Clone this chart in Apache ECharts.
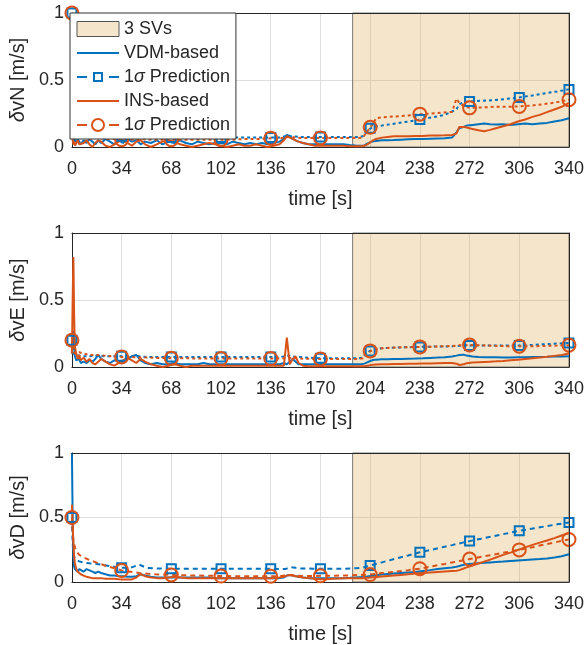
<!DOCTYPE html>
<html>
<head>
<meta charset="utf-8">
<script src="https://cdn.jsdelivr.net/npm/echarts@6/dist/echarts.min.js"></script>
<style>
  html, body { margin: 0; padding: 0; background: #fff; }
  #chart { width: 587px; height: 645px; }
</style>
</head>
<body>
<div id="chart"></div>
<script>
// Sample times (s) of the velocity-error traces
const timeErr = [
  0, 0.5, 1, 1.5, 2, 3, 4, 5, 6,
  8, 10, 12, 14, 16, 18, 20,
  23, 26, 29, 32, 35, 38, 41, 44, 47, 50,
  54, 58, 62, 66, 70, 74, 78, 82, 86, 90, 94, 98,
  102, 106, 110, 114, 118, 122, 126, 130, 134, 138, 142,
  145, 147, 149, 151, 153, 155,
  158, 162, 166, 170, 174, 178, 182, 186, 190, 194, 198,
  200, 202, 204, 206, 208, 212, 216, 220,
  225, 230, 235, 240, 245, 250, 255, 260,
  263, 265, 266, 268, 270, 274, 278, 282, 286, 290,
  295, 300, 305, 310, 315, 320, 325, 330, 335, 340
];

// Sample times (s) of the 1-sigma predictions
const timePred = [
  0, 0.5, 1, 2, 3, 5, 8, 12, 17, 22, 28, 34,
  40, 46, 51, 57, 63, 68, 75, 85, 95, 102,
  110, 119, 128, 136, 142, 146, 148, 150, 153, 156, 160, 165, 170,
  175, 180, 186, 192, 196, 199, 201, 203, 204, 206, 208, 212,
  221, 230, 238, 246, 255, 260, 263, 265, 266, 268, 272,
  280, 289, 298, 306, 315, 323, 332, 340
];

// Times at which prediction markers are drawn
const markerTimes = [0, 34, 68, 102, 136, 170, 204, 238, 272, 306, 340];

// Period with only 3 satellites visible (s)
const outage = [192, 340];

// North velocity error (m/s)
const vdmN = [
  0.10, 0.06, 0.04, 0.07, 0.05, 0.03, 0.06, 0.04, 0.02,
  0.05, 0.03, 0.06, 0.04, 0.02, 0.05, 0.03,
  0.06, 0.04, 0.02, 0.05, 0.03, 0.06, 0.04, 0.05, 0.02, 0.04,
  0.03, 0.05, 0.02, 0.04, 0.03, 0.05, 0.03, 0.02, 0.04, 0.03, 0.02, 0.03,
  0.03, 0.02, 0.04, 0.03, 0.02, 0.03, 0.02, 0.03, 0.02, 0.03, 0.04,
  0.06, 0.09, 0.08, 0.06, 0.05, 0.04,
  0.03, 0.02, 0.02, 0.02, 0.02, 0.02, 0.02, 0.02, 0.015, 0.012, 0.01,
  0.012, 0.025, 0.035, 0.042, 0.045, 0.05, 0.05, 0.052,
  0.055, 0.058, 0.06, 0.06, 0.062, 0.064, 0.066, 0.07,
  0.11, 0.14, 0.145, 0.15, 0.16, 0.165, 0.17, 0.175, 0.17, 0.168,
  0.17, 0.165, 0.17, 0.175, 0.17, 0.175, 0.18, 0.19, 0.2, 0.215
];
const insN = [
  0.12, 0.05, 0.02, 0.04, 0.01, 0.03, 0.05, 0.02, 0.01,
  0.03, 0.05, 0.02, 0.00, 0.03, 0.05, 0.04,
  0.01, 0.00, 0.02, 0.04, 0.05, 0.03, 0.01, 0.04, 0.05, 0.02,
  0.00, 0.02, 0.04, 0.05, 0.04, 0.02, 0.01, 0.00, 0.01, 0.02, 0.03, 0.02,
  0.01, 0.00, 0.01, 0.02, 0.01, 0.01, 0.02, 0.01, 0.00, 0.01, 0.02,
  0.05, 0.08, 0.07, 0.06, 0.05, 0.04,
  0.03, 0.02, 0.01, 0.01, 0.01, 0.01, 0.01, 0.01, 0.005, 0.005, 0.005,
  0.01, 0.02, 0.035, 0.05, 0.06, 0.07, 0.075, 0.08,
  0.08, 0.08, 0.082, 0.083, 0.085, 0.085, 0.087, 0.09,
  0.10, 0.15, 0.155, 0.15, 0.145, 0.135, 0.125, 0.117, 0.128, 0.14,
  0.155, 0.17, 0.19, 0.205, 0.225, 0.24, 0.26, 0.28, 0.30, 0.33
];
const vdmSigN = [
  1.0, 0.3, 0.12, 0.1, 0.09, 0.1, 0.09, 0.1, 0.09, 0.08, 0.085, 0.08,
  0.075, 0.08, 0.075, 0.07, 0.07, 0.07, 0.07, 0.07, 0.07, 0.07,
  0.07, 0.07, 0.07, 0.07, 0.07, 0.08, 0.085, 0.08, 0.078, 0.075, 0.075, 0.075, 0.075,
  0.075, 0.075, 0.075, 0.075, 0.075, 0.08, 0.11, 0.13, 0.14, 0.15, 0.155, 0.16,
  0.175, 0.19, 0.205, 0.22, 0.24, 0.265, 0.28, 0.32, 0.33, 0.335, 0.34,
  0.345, 0.35, 0.36, 0.37, 0.385, 0.40, 0.415, 0.43
];
const insSigN = [
  1.0, 0.3, 0.1, 0.08, 0.07, 0.08, 0.07, 0.06, 0.07, 0.06, 0.06, 0.055,
  0.055, 0.06, 0.055, 0.055, 0.055, 0.055, 0.055, 0.055, 0.055, 0.055,
  0.055, 0.06, 0.06, 0.065, 0.065, 0.07, 0.075, 0.075, 0.07, 0.068, 0.068, 0.068, 0.068,
  0.068, 0.068, 0.068, 0.068, 0.068, 0.07, 0.10, 0.13, 0.147, 0.17, 0.215, 0.222,
  0.228, 0.235, 0.245, 0.25, 0.258, 0.262, 0.36, 0.33, 0.32, 0.305, 0.292,
  0.295, 0.30, 0.30, 0.303, 0.31, 0.32, 0.335, 0.353
];

// East velocity error (m/s)
const vdmE = [
  0.10, 0.2, 0.27, 0.15, 0.08, 0.05, 0.04, 0.06, 0.03,
  0.04, 0.03, 0.05, 0.04, 0.06, 0.09, 0.06,
  0.04, 0.03, 0.05, 0.04, 0.03, 0.06, 0.08, 0.09, 0.05, 0.03,
  0.02, 0.03, 0.02, 0.02, 0.03, 0.02, 0.02, 0.02, 0.02, 0.03, 0.02, 0.02,
  0.02, 0.02, 0.02, 0.02, 0.02, 0.02, 0.02, 0.02, 0.02, 0.02, 0.02,
  0.03, 0.02, 0.04, 0.06, 0.04, 0.02,
  0.02, 0.02, 0.02, 0.02, 0.02, 0.02, 0.02, 0.02, 0.02, 0.02, 0.02,
  0.025, 0.035, 0.045, 0.052, 0.055, 0.057, 0.058, 0.06,
  0.06, 0.062, 0.063, 0.065, 0.068, 0.07, 0.073, 0.078,
  0.085, 0.09, 0.095, 0.092, 0.085, 0.078, 0.075, 0.073, 0.072, 0.072,
  0.07, 0.07, 0.072, 0.072, 0.074, 0.075, 0.076, 0.078, 0.079, 0.08
];
const insE = [
  0.1, 0.5, 0.82, 0.4, 0.15, 0.1, 0.06, 0.09, 0.05,
  0.07, 0.04, 0.06, 0.03, 0.02, 0.04, 0.06,
  0.04, 0.02, 0.01, 0.03, 0.05, 0.07, 0.05, 0.03, 0.06, 0.04,
  0.02, 0.01, 0.00, 0.01, 0.02, 0.01, 0.00, 0.01, 0.01, 0.01, 0.01, 0.01,
  0.01, 0.01, 0.01, 0.01, 0.01, 0.01, 0.01, 0.01, 0.01, 0.01, 0.01,
  0.01, 0.22, 0.02, 0.06, 0.08, 0.03,
  0.01, 0.005, 0.005, 0.005, 0.005, 0.005, 0.005, 0.005, 0.005, 0.005, 0.005,
  0.006, 0.01, 0.014, 0.017, 0.019, 0.02, 0.021, 0.022,
  0.023, 0.024, 0.025, 0.026, 0.027, 0.028, 0.029, 0.03,
  0.025, 0.015, 0.012, 0.02, 0.028, 0.033, 0.036, 0.038, 0.04, 0.042,
  0.045, 0.05, 0.055, 0.06, 0.065, 0.07, 0.076, 0.083, 0.09, 0.1
];
const vdmSigE = [
  0.2, 0.12, 0.1, 0.09, 0.09, 0.085, 0.08, 0.08, 0.085, 0.08, 0.08, 0.08,
  0.08, 0.08, 0.075, 0.075, 0.075, 0.075, 0.075, 0.075, 0.075, 0.075,
  0.075, 0.075, 0.075, 0.075, 0.075, 0.08, 0.085, 0.08, 0.075, 0.075, 0.07, 0.068, 0.065,
  0.065, 0.065, 0.065, 0.065, 0.065, 0.07, 0.1, 0.115, 0.12, 0.13, 0.135, 0.14,
  0.145, 0.148, 0.15, 0.152, 0.153, 0.155, 0.157, 0.158, 0.158, 0.16, 0.16,
  0.16, 0.16, 0.16, 0.16, 0.165, 0.17, 0.175, 0.18
];
const insSigE = [
  0.2, 0.15, 0.12, 0.1, 0.1, 0.11, 0.1, 0.09, 0.09, 0.085, 0.08, 0.075,
  0.075, 0.07, 0.07, 0.068, 0.066, 0.065, 0.065, 0.064, 0.063, 0.063,
  0.063, 0.063, 0.063, 0.063, 0.063, 0.065, 0.07, 0.068, 0.065, 0.063, 0.062, 0.06, 0.06,
  0.06, 0.06, 0.06, 0.06, 0.06, 0.065, 0.095, 0.11, 0.12, 0.13, 0.135, 0.14,
  0.145, 0.148, 0.15, 0.152, 0.155, 0.157, 0.16, 0.162, 0.163, 0.164, 0.165,
  0.162, 0.158, 0.155, 0.155, 0.155, 0.157, 0.16, 0.163
];

// Down velocity error (m/s)
const vdmD = [
  1.0, 0.5, 0.2, 0.12, 0.1, 0.09, 0.08, 0.1, 0.09,
  0.08, 0.1, 0.09, 0.08, 0.07, 0.08, 0.07,
  0.06, 0.05, 0.05, 0.045, 0.045, 0.04, 0.04, 0.045, 0.06, 0.05,
  0.04, 0.035, 0.035, 0.035, 0.035, 0.035, 0.035, 0.035, 0.035, 0.035, 0.035, 0.03,
  0.03, 0.03, 0.03, 0.03, 0.03, 0.03, 0.03, 0.03, 0.03, 0.03, 0.03,
  0.035, 0.05, 0.055, 0.05, 0.045, 0.04,
  0.035, 0.03, 0.03, 0.03, 0.03, 0.03, 0.03, 0.03, 0.032, 0.035, 0.038,
  0.04, 0.042, 0.046, 0.05, 0.053, 0.058, 0.062, 0.066,
  0.07, 0.074, 0.078, 0.085, 0.092, 0.1, 0.107, 0.113,
  0.118, 0.124, 0.128, 0.134, 0.138, 0.142, 0.146, 0.149, 0.152, 0.155,
  0.158, 0.162, 0.166, 0.17, 0.174, 0.178, 0.183, 0.19, 0.2, 0.215
];
const insD = [
  0.6, 0.45, 0.3, 0.2, 0.15, 0.1, 0.08, 0.07, 0.06,
  0.05, 0.04, 0.035, 0.03, 0.03, 0.03, 0.03,
  0.025, 0.025, 0.025, 0.022, 0.02, 0.02, 0.02, 0.035, 0.06, 0.045,
  0.035, 0.03, 0.03, 0.035, 0.04, 0.035, 0.03, 0.03, 0.03, 0.03, 0.03, 0.03,
  0.03, 0.03, 0.03, 0.03, 0.03, 0.03, 0.03, 0.03, 0.03, 0.03, 0.035,
  0.04, 0.05, 0.055, 0.05, 0.045, 0.04,
  0.035, 0.03, 0.025, 0.022, 0.022, 0.025, 0.028, 0.03, 0.03, 0.03, 0.03,
  0.031, 0.032, 0.034, 0.036, 0.038, 0.042, 0.046, 0.05,
  0.055, 0.06, 0.065, 0.07, 0.074, 0.078, 0.082, 0.086,
  0.088, 0.092, 0.095, 0.105, 0.113, 0.128, 0.143, 0.158, 0.173, 0.19,
  0.21, 0.228, 0.248, 0.268, 0.288, 0.305, 0.322, 0.34, 0.36, 0.38
];
const vdmSigD = [
  0.5, 0.3, 0.22, 0.18, 0.17, 0.16, 0.15, 0.145, 0.14, 0.13, 0.12, 0.11,
  0.11, 0.135, 0.11, 0.105, 0.105, 0.103, 0.103, 0.103, 0.103, 0.103,
  0.103, 0.103, 0.103, 0.103, 0.1, 0.1, 0.11, 0.115, 0.11, 0.105, 0.105, 0.103, 0.103,
  0.103, 0.103, 0.103, 0.105, 0.108, 0.112, 0.118, 0.124, 0.128, 0.134, 0.14, 0.152,
  0.18, 0.206, 0.23, 0.25, 0.274, 0.286, 0.294, 0.299, 0.302, 0.307, 0.317,
  0.336, 0.357, 0.378, 0.397, 0.414, 0.43, 0.447, 0.462
];
const insSigD = [
  0.5, 0.4, 0.32, 0.27, 0.24, 0.21, 0.19, 0.17, 0.15, 0.13, 0.11, 0.09,
  0.08, 0.07, 0.065, 0.06, 0.057, 0.055, 0.052, 0.05, 0.048, 0.046,
  0.045, 0.045, 0.045, 0.045, 0.045, 0.05, 0.055, 0.055, 0.05, 0.048, 0.047, 0.047, 0.048,
  0.048, 0.049, 0.05, 0.052, 0.054, 0.055, 0.056, 0.057, 0.058, 0.061, 0.063, 0.069,
  0.08, 0.092, 0.103, 0.121, 0.14, 0.152, 0.158, 0.163, 0.165, 0.169, 0.178,
  0.195, 0.214, 0.232, 0.249, 0.27, 0.29, 0.311, 0.33
];

// ---- styling ----
const FONT = "'Liberation Sans', Arial, Helvetica, sans-serif";
const TEXT = '#262626';
const BLUE = '#0072BD';
const ORANGE = '#D95319';
const SHADE = 'rgba(222,170,80,0.30)';

const panels = [
  { comp: 'N', top: 13,  height: 134, vdm: vdmN, ins: insN, vdmSig: vdmSigN, insSig: insSigN, dash: [3, 3] },
  { comp: 'E', top: 233, height: 134, vdm: vdmE, ins: insE, vdmSig: vdmSigE, insSig: insSigE, dash: [3, 3] },
  { comp: 'D', top: 453, height: 132, vdm: vdmD, ins: insD, vdmSig: vdmSigD, insSig: insSigD, dash: [5, 4] }
];

const pairs = (t, v) => t.map((x, i) => [x, v[i]]);
const withMarkers = (t, v) => t.map((x, i) =>
  markerTimes.includes(x) ? { value: [x, v[i]] } : { value: [x, v[i]], symbol: 'none' });

const grid = [], xAxis = [], yAxis = [], series = [];

panels.forEach((p, i) => {
  grid.push({ left: 70, right: 18, top: p.top, height: p.height, containLabel: false });

  // main x axis (bottom) with labels and grid lines
  xAxis.push({
    type: 'value', gridIndex: i, min: 0, max: 340, interval: 34,
    name: 'time [s]', nameLocation: 'middle', nameGap: 42,
    nameTextStyle: { fontFamily: FONT, fontSize: 20, color: TEXT },
    axisLine: { show: true, onZero: false, lineStyle: { color: TEXT, width: 1 } },
    axisTick: { show: false },
    axisLabel: { fontFamily: FONT, fontSize: 18, color: TEXT, margin: 13 },
    splitLine: { show: true, lineStyle: { color: '#dedede', width: 1 } }
  });
  // frame line on top
  xAxis.push({
    type: 'value', gridIndex: i, min: 0, max: 340, position: 'top', z: 10,
    axisLine: { show: true, onZero: false, lineStyle: { color: TEXT, width: 1 } },
    axisTick: { show: false }, axisLabel: { show: false }, splitLine: { show: false }
  });

  yAxis.push({
    type: 'value', gridIndex: i, min: 0, max: 1, interval: 0.5,
    name: '{d|\u03b4}v' + p.comp + ' [m/s]', nameLocation: 'middle', nameGap: 33,
    nameTextStyle: {
      fontFamily: FONT, fontSize: 20, color: TEXT,
      rich: { d: { fontFamily: FONT, fontSize: 20, color: TEXT, fontStyle: 'italic' } }
    },
    axisLine: { show: true, onZero: false, lineStyle: { color: TEXT, width: 1 } },
    axisTick: { show: false },
    axisLabel: { fontFamily: FONT, fontSize: 18, color: TEXT, margin: 8 },
    splitLine: { show: true, lineStyle: { color: '#dedede', width: 1 } }
  });
  // frame line on the right
  yAxis.push({
    type: 'value', gridIndex: i, min: 0, max: 1, position: 'right', z: 10,
    axisLine: { show: true, onZero: false, lineStyle: { color: TEXT, width: 1 } },
    axisTick: { show: false }, axisLabel: { show: false }, splitLine: { show: false }
  });

  const xi = 2 * i, yi = 2 * i;

  // shaded period with 3 satellites
  series.push({
    name: '3 SVs', type: 'line', xAxisIndex: xi, yAxisIndex: yi, data: [],
    itemStyle: { color: '#f5e5ca' },
    markArea: {
      silent: true,
      itemStyle: { color: SHADE, borderColor: 'rgba(80,80,80,0.75)', borderWidth: 1 },
      data: [[{ xAxis: outage[0] }, { xAxis: outage[1] }]]
    }
  });

  series.push({
    name: 'VDM-based', type: 'line', xAxisIndex: xi, yAxisIndex: yi,
    data: pairs(timeErr, p.vdm), symbol: 'none',
    itemStyle: { color: BLUE },
    lineStyle: { color: BLUE, width: 2 }
  });
  series.push({
    name: 'predV', type: 'line', xAxisIndex: xi, yAxisIndex: yi,
    data: withMarkers(timePred, p.vdmSig),
    symbol: 'rect', symbolSize: 9, showSymbol: true, showAllSymbol: true,
    itemStyle: { color: 'rgba(0,0,0,0)', borderColor: BLUE, borderWidth: 2 },
    lineStyle: { color: BLUE, width: 2, type: p.dash }
  });
  series.push({
    name: 'INS-based', type: 'line', xAxisIndex: xi, yAxisIndex: yi,
    data: pairs(timeErr, p.ins), symbol: 'none',
    itemStyle: { color: ORANGE },
    lineStyle: { color: ORANGE, width: 2 }
  });
  series.push({
    name: 'predI', type: 'line', xAxisIndex: xi, yAxisIndex: yi,
    data: withMarkers(timePred, p.insSig),
    symbol: 'circle', symbolSize: 13, showSymbol: true, showAllSymbol: true,
    itemStyle: { color: 'rgba(0,0,0,0)', borderColor: ORANGE, borderWidth: 2 },
    lineStyle: { color: ORANGE, width: 2, type: p.dash }
  });
});

const legendLabels = {
  '3 SVs': '3 SVs',
  'VDM-based': 'VDM-based',
  'predV': '1{s|\u03c3} Prediction',
  'INS-based': 'INS-based',
  'predI': '1{s|\u03c3} Prediction'
};

// legend keys: dash, open marker, dash
const keySquare = 'path://M0 6.5L10 6.5L10 8.5L0 8.5Z' +
  'M16 2.5L26 2.5L26 12.5L16 12.5ZM18 4.5L18 10.5L24 10.5L24 4.5Z' +
  'M32 6.5L42 6.5L42 8.5L32 8.5Z';
const keyCircle = 'path://M0 6.5L10 6.5L10 8.5L0 8.5Z' +
  'M14 7.5A7 7 0 1 0 28 7.5A7 7 0 1 0 14 7.5Z' +
  'M16 7.5A5 5 0 1 1 26 7.5A5 5 0 1 1 16 7.5Z' +
  'M32 6.5L42 6.5L42 8.5L32 8.5Z';

const option = {
  animation: false,
  backgroundColor: '#ffffff',
  grid, xAxis, yAxis, series,
  legend: {
    left: 70, top: 13, orient: 'vertical',
    itemWidth: 42, itemHeight: 15, itemGap: 6,
    padding: [7, 6, 5, 6],
    backgroundColor: '#ffffff', borderColor: '#333333', borderWidth: 1,
    selectedMode: false, z: 20,
    formatter: name => legendLabels[name],
    textStyle: {
      fontFamily: FONT, fontSize: 18, color: TEXT,
      rich: { s: { fontFamily: FONT, fontSize: 18, color: TEXT, fontStyle: 'italic' } }
    },
    data: [
      { name: '3 SVs', icon: 'rect', itemStyle: { color: '#f5e5ca', borderColor: '#555555', borderWidth: 1 } },
      { name: 'VDM-based', itemStyle: { opacity: 0 } },
      { name: 'predV', icon: keySquare, itemStyle: { color: BLUE, borderWidth: 0 } },
      { name: 'INS-based', itemStyle: { opacity: 0 } },
      { name: 'predI', icon: keyCircle, itemStyle: { color: ORANGE, borderWidth: 0 } }
    ]
  }
};

const chart = echarts.init(document.getElementById('chart'), null, { renderer: 'canvas' });
chart.setOption(option);
</script>
</body>
</html>
